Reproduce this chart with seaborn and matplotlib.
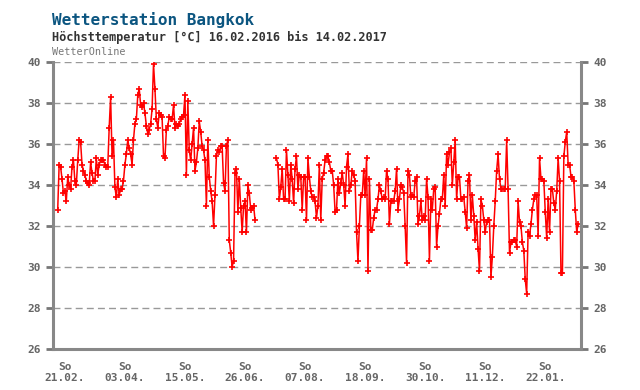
import numpy as np
import pandas as pd
import matplotlib
matplotlib.use("Agg")
import matplotlib.pyplot as plt
import seaborn as sns

# ---- data (daily maximum temperature, °C) ----
start_date = "2016-02-16"
temps_feb_mar = [32.8, 35.0, 34.9, 34.3, 33.6, 33.7, 33.2, 34.4, 34.0, 33.8,
                 34.9, 35.2, 34.2, 34.0, 35.2, 36.2, 36.1, 35.0, 34.7, 34.5,
                 34.2, 34.1, 34.0, 35.1, 34.6, 34.2, 34.2, 35.3, 34.5, 35.0,
                 35.2, 35.2, 35.2, 35.0]
temps_mar_apr = [34.9, 34.9, 36.8, 38.3, 35.4, 36.2, 33.9, 33.4, 34.3, 33.5,
                 33.8, 33.8, 34.2, 35.0, 35.5, 36.2, 35.8, 35.5, 35.0, 36.2,
                 37.0, 37.2, 38.4, 38.7, 37.9, 37.8, 38.0, 37.5, 36.9, 36.5,
                 36.7, 37.0, 37.7, 39.9, 38.7, 37.2, 36.8]
temps_apr_may = [37.5, 37.4, 37.3, 35.4, 35.3, 36.7, 36.9, 37.3, 37.2, 37.2,
                 37.9, 36.8, 37.0, 36.9, 37.0, 37.2, 37.3, 37.4, 38.4, 34.5,
                 38.1, 35.7, 35.2, 36.0, 36.8, 34.7, 35.1, 35.8, 37.1, 36.6,
                 35.9, 35.7, 35.2, 33.0, 36.2, 34.4, 33.7]
temps_jun = [33.2, 32.0, 33.5, 35.4, 35.7, 35.6, 35.9, 35.9, 34.1, 33.7,
             35.9, 36.2, 31.3, 30.7, 30.0, 30.3, 34.6, 34.8, 32.7, 34.3,
             32.9, 31.7, 33.0, 33.2, 31.7, 34.0, 33.6, 32.8, 32.9, 33.0,
             32.3]
temps_missing = [np.nan] * 14
temps_jul_aug = [35.3, 35.0, 33.3, 33.9, 34.8, 33.3, 33.3, 35.7, 34.5, 33.2,
                 35.0, 34.3, 33.1, 34.8, 35.4, 33.8, 34.5, 34.4, 32.8, 34.4,
                 34.4, 32.3, 35.3, 34.4, 33.7, 33.4, 33.4, 33.2, 32.4]
temps_aug_sep = [33.0, 35.0, 32.3, 34.3, 34.6, 35.2, 35.4, 35.4, 35.1, 34.7,
                 34.7, 34.0, 32.7, 32.8, 34.3, 33.6, 34.1, 34.6, 34.0, 33.0,
                 34.9, 35.5, 33.7, 34.0, 34.7, 34.5, 34.2, 31.7, 30.3, 32.0,
                 33.5, 33.5, 34.7, 33.5, 35.3, 29.8, 34.3]
temps_sep_oct = [31.8, 31.8, 32.4, 32.8, 32.8, 33.3, 34.0, 33.7, 33.3, 33.4,
                 33.3, 34.7, 34.3, 32.1, 33.2, 33.2, 33.2, 33.7, 34.8, 32.8,
                 33.3, 34.0, 33.9, 33.6, 32.0, 30.2, 34.7, 34.5, 33.4, 33.5,
                 33.4, 34.2, 34.4, 32.1, 32.5, 33.2, 32.3]
temps_oct_dec = [32.5, 32.3, 34.3, 33.4, 30.3, 33.3, 32.8, 33.8, 33.9, 31.0,
                 32.0, 32.6, 33.3, 33.3, 34.5, 33.0, 35.5, 35.0, 35.6, 35.8,
                 34.0, 35.1, 36.2, 33.3, 34.4, 34.4, 33.3, 33.3, 33.4, 32.7,
                 31.9, 34.2, 34.5, 32.3, 33.5, 32.5, 31.3]
temps_dec_jan = [32.2, 30.9, 29.8, 33.3, 33.0, 32.3, 31.7, 32.2, 32.3, 32.3,
                 29.5, 30.5, 32.0, 33.2, 34.7, 35.5, 34.3, 33.8, 33.8, 33.8,
                 33.8, 36.2, 33.8, 30.7, 31.2, 31.2, 31.3, 31.3, 31.0, 33.2,
                 32.2, 32.0, 31.2, 30.8, 29.4, 28.7, 31.7]
temps_jan_feb = [31.5, 32.1, 32.8, 33.3, 33.5, 33.5, 31.5, 35.3, 34.3, 34.3,
                 34.2, 32.7, 31.4, 33.3, 31.7, 33.8, 33.8, 33.1, 32.8, 33.7,
                 35.3, 34.2, 29.7, 29.7, 35.4, 36.1, 36.6, 35.0, 35.0, 34.4,
                 34.4, 34.2, 32.8, 31.7, 32.1]

y_ticks = [26, 28, 30, 32, 34, 36, 38, 40]
label_every_weeks = 6
first_sunday = "2016-02-21"
title = "Wetterstation Bangkok"
subtitle = "Höchsttemperatur [°C] 16.02.2016 bis 14.02.2017"
source = "WetterOnline"

temps = (temps_feb_mar + temps_mar_apr + temps_apr_may + temps_jun + temps_missing
         + temps_jul_aug + temps_aug_sep + temps_sep_oct + temps_oct_dec
         + temps_dec_jan + temps_jan_feb)
dates = pd.date_range(start_date, periods=len(temps), freq="D")
df = pd.DataFrame({"date": dates, "temp": temps})
df["seg"] = df["temp"].isna().cumsum()
df = df.dropna()

# ---- style ----
sns.set_style("white")
mono = "DejaVu Sans Mono"
plt.rcParams["font.family"] = [mono, "DejaVu Sans"]

fig = plt.figure(figsize=(6.4, 3.9), dpi=100)
ax = fig.add_axes([53 / 640, 1 - 349 / 390, 528 / 640, 287 / 390])

sns.lineplot(data=df, x="date", y="temp", units="seg", estimator=None,
             color="#ff0000", linewidth=1.1, marker="+", markersize=5,
             markeredgewidth=1.2, markeredgecolor="#ff0000", ax=ax, legend=False)

t0 = pd.Timestamp(start_date)
ax.set_xlim(t0 - pd.Timedelta(days=3.3), t0 + pd.Timedelta(days=366))
ax.set_ylim(26, 40)

# grid
for v in y_ticks[1:]:
    ax.axhline(v, color="#999999", lw=1.0, ls=(0, (5, 3)), zorder=0)

ax.set_yticks(y_ticks)
ax.set_yticklabels([str(v) for v in y_ticks])
ax.tick_params(axis="y", which="both", left=True, right=True, labelleft=True,
               labelright=True, length=5, width=2, color="#777777",
               labelsize=8, labelcolor="#666666", pad=4)

sundays = pd.date_range(first_sunday, dates[-1], freq="7D")
ax.set_xticks(sundays)
xl = []
for i, s in enumerate(sundays):
    xl.append("So\n" + s.strftime("%d.%m.") if i % label_every_weeks == 0 else "")
ax.set_xticklabels(xl, linespacing=1.15)
ax.tick_params(axis="x", length=5, width=2, color="#777777", labelsize=8,
               labelcolor="#666666", pad=4)
for lab in ax.get_xticklabels() + ax.get_yticklabels():
    lab.set_fontweight("bold")
    lab.set_fontfamily(mono)

ax.set_xlabel("")
ax.set_ylabel("")

for side in ["left", "right", "bottom"]:
    ax.spines[side].set_visible(True)
    ax.spines[side].set_color("#888888")
    ax.spines[side].set_linewidth(2.2)
ax.spines["top"].set_visible(False)

fig.text(52 / 640, 1 - 20 / 390, title, fontsize=11.5, fontweight="bold",
         color="#0b5580", va="center", ha="left", family=mono)
fig.text(52 / 640, 1 - 37.5 / 390, subtitle, fontsize=8.6, fontweight="bold",
         color="#333333", va="center", ha="left", family=mono)
fig.text(52 / 640, 1 - 52 / 390, source, fontsize=7.3, color="#777777",
         va="center", ha="left", family=mono)

fig.savefig("out.png", dpi=100, facecolor="white")
